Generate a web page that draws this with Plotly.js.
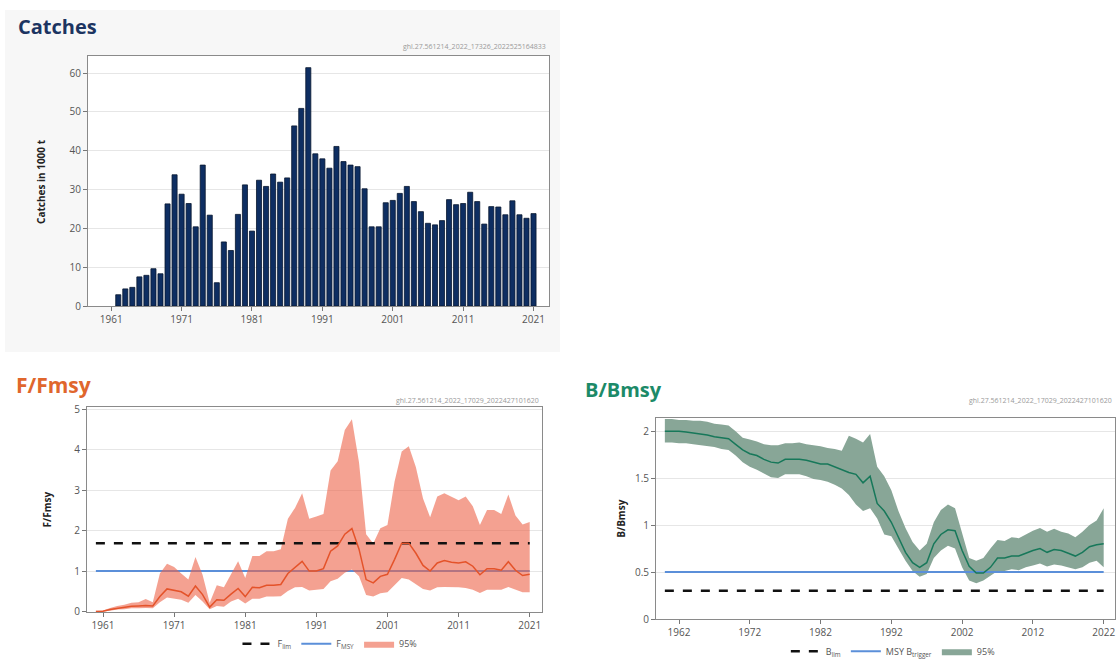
<!DOCTYPE html>
<html><head><meta charset="utf-8">
<script src="https://cdn.plot.ly/plotly-3.0.1.min.js"></script>
<style>
body{margin:0;background:#fff;width:1119px;height:670px;overflow:hidden;position:relative;}
#catch{position:absolute;left:5px;top:10px;width:555px;height:342px;}
#ff{position:absolute;left:0;top:370px;width:560px;height:300px;}
#bb{position:absolute;left:570px;top:370px;width:549px;height:300px;}
</style></head><body>
<div id="catch"></div><div id="ff"></div><div id="bb"></div>
<script>
// ---------- Catches ----------
const catchYears = [];
for (let y = 1962; y <= 2021; y++) catchYears.push(y);
const catchValues = [2.9,4.4,4.8,7.5,7.9,9.6,8.3,26.3,33.8,28.8,26.4,20.4,36.3,23.4,6.0,16.5,14.3,23.6,31.2,19.3,
  32.4,30.8,34.0,31.9,33.0,46.4,50.9,61.4,39.2,37.9,35.5,41.1,37.2,36.3,35.9,30.2,20.4,20.4,26.6,27.2,
  29.0,30.8,26.9,24.3,21.3,20.9,22.0,27.4,26.1,26.4,29.3,26.9,21.1,25.6,25.5,23.5,27.1,23.5,22.6,23.8];
const catchTickVals = [1961,1971,1981,1991,2001,2011,2021];
const catchYTicks = [0,10,20,30,40,50,60];

// ---------- F/Fmsy ----------
const fYears = [];
for (let y = 1960; y <= 2021; y++) fYears.push(y);
const fMain = [0.0,0.01,0.05,0.08,0.11,0.13,0.14,0.15,0.14,0.37,0.56,0.52,0.49,0.38,0.63,0.42,0.11,0.29,0.28,0.43,
  0.57,0.37,0.60,0.59,0.65,0.65,0.67,0.94,1.10,1.24,1.00,1.00,1.06,1.49,1.62,1.91,2.05,1.54,0.79,0.71,
  0.87,0.92,1.29,1.69,1.69,1.44,1.14,1.00,1.20,1.26,1.22,1.20,1.23,1.12,0.91,1.06,1.06,1.02,1.23,1.02,0.89,0.92];
const fUpper = [0.02,0.03,0.09,0.14,0.17,0.22,0.23,0.31,0.23,0.94,1.18,1.10,0.94,0.79,1.35,0.91,0.22,0.65,0.60,0.94,
  1.24,0.83,1.37,1.37,1.49,1.49,1.54,2.29,2.56,2.92,2.29,2.35,2.41,3.48,3.71,4.48,4.75,3.68,1.91,1.68,
  2.06,2.14,3.21,3.95,4.08,3.56,2.79,2.33,2.84,2.92,2.84,2.75,2.84,2.60,2.14,2.51,2.51,2.41,2.89,2.37,2.15,2.21];
const fLower = [0.0,0.0,0.02,0.05,0.06,0.08,0.08,0.09,0.08,0.23,0.35,0.32,0.29,0.22,0.41,0.25,0.06,0.14,0.12,0.25,
  0.32,0.20,0.32,0.32,0.37,0.37,0.38,0.51,0.60,0.61,0.52,0.54,0.56,0.75,0.81,0.96,1.04,0.87,0.41,0.37,
  0.45,0.48,0.66,0.83,0.79,0.68,0.56,0.52,0.60,0.61,0.61,0.60,0.58,0.54,0.46,0.54,0.54,0.54,0.61,0.54,0.48,0.48];
const fLim = 1.69, fMsy = 1.0;
const fRefYears = [1960, 2021];
const fTickVals = [1961,1971,1981,1991,2001,2011,2021];
const fYTicks = [0,1,2,3,4,5];

// ---------- B/Bmsy ----------
const bYears = [];
for (let y = 1960; y <= 2022; y++) bYears.push(y);
const bMain = [2.0,2.0,2.0,1.99,1.98,1.97,1.96,1.94,1.93,1.92,1.86,1.80,1.76,1.74,1.70,1.67,1.66,1.70,1.70,1.70,
  1.69,1.67,1.65,1.65,1.62,1.59,1.56,1.54,1.45,1.52,1.23,1.15,1.03,0.87,0.71,0.60,0.55,0.60,0.80,0.90,
  0.95,0.94,0.73,0.56,0.49,0.49,0.55,0.65,0.65,0.67,0.67,0.70,0.73,0.75,0.71,0.74,0.73,0.70,0.67,0.71,0.77,0.79,0.80];
const bUpper = [2.13,2.13,2.12,2.12,2.11,2.11,2.10,2.08,2.07,2.06,2.0,1.93,1.91,1.89,1.86,1.85,1.85,1.87,1.87,1.88,
  1.86,1.85,1.84,1.82,1.81,1.79,1.95,1.92,1.88,1.97,1.62,1.52,1.37,1.15,0.97,0.82,0.73,0.80,1.03,1.16,
  1.22,1.18,0.92,0.65,0.62,0.65,0.75,0.84,0.83,0.87,0.86,0.90,0.94,0.97,0.93,0.96,0.93,0.91,0.87,0.93,1.0,1.05,1.18];
const bLower = [1.88,1.88,1.87,1.87,1.86,1.85,1.84,1.83,1.81,1.80,1.74,1.67,1.62,1.59,1.55,1.51,1.50,1.54,1.54,1.54,
  1.52,1.49,1.48,1.46,1.43,1.39,1.32,1.22,1.15,1.18,1.07,0.90,0.88,0.75,0.62,0.51,0.45,0.48,0.65,0.73,
  0.78,0.75,0.55,0.41,0.38,0.41,0.46,0.51,0.51,0.53,0.52,0.55,0.57,0.59,0.56,0.58,0.57,0.55,0.53,0.55,0.60,0.62,0.55];
const bLim = 0.3, bTrigger = 0.5;
const bRefYears = [1960, 2022];
const bTickVals = [1962,1972,1982,1992,2002,2012,2022];
const bYTicks = [0,0.5,1,1.5,2];
const bYTickText = ['0','0.5','1','1.5','2'];

const watermarkC = 'ghl.27.561214_2022_17326_2022525164833';
const watermarkFB = 'ghl.27.561214_2022_17029_2022427101620';

const FONT = 'Open Sans, DejaVu Sans, sans-serif';
const tickFont = {family: FONT, size: 10, color: '#555'};
const cfg = {staticPlot: true, displayModeBar: false};

function axisBase(extra) {
  return Object.assign({
    showline: true, mirror: true, linecolor: '#8a8a8a', linewidth: 1,
    ticks: 'outside', ticklen: 4, tickcolor: '#777', tickwidth: 1,
    tickfont: tickFont, zeroline: false, showgrid: false, fixedrange: true
  }, extra);
}

// Catches plot
Plotly.newPlot('catch', [{
  type: 'bar', x: catchYears, y: catchValues, width: 0.72,
  marker: {color: '#0e2e62', line: {color: '#08162e', width: 0.8}},
  showlegend: false, hoverinfo: 'skip'
}], {
  width: 555, height: 342,
  margin: {l: 83, r: 11, t: 46, b: 46},
  paper_bgcolor: '#f7f7f7', plot_bgcolor: '#ffffff',
  title: {text: '<b>Catches</b>', x: 13/555, xref: 'container', xanchor: 'left',
          y: 1 - 17/342, yref: 'container', yanchor: 'middle',
          font: {family: FONT, size: 20, color: '#1c3461'}},
  xaxis: axisBase({range: [1957.7, 2023.2], tickvals: catchTickVals, ticktext: catchTickVals.map(String)}),
  yaxis: axisBase({range: [0, 64.4], tickvals: catchYTicks, showgrid: true, gridcolor: '#e6e6e6'}),
  annotations: [
    {text: watermarkC, xref: 'paper', yref: 'paper', x: 0.998, y: 1.036, xanchor: 'right', yanchor: 'middle',
     showarrow: false, font: {family: FONT, size: 7, color: '#9a9a9a'}},
    {text: '<b>Catches in 1000 t</b>', xref: 'paper', yref: 'paper', x: -0.102, y: 0.5, xanchor: 'center', yanchor: 'middle',
     textangle: -90, showarrow: false, font: {family: FONT, size: 10, color: '#222'}}
  ]
}, cfg);

// F/Fmsy plot
Plotly.newPlot('ff', [
  {x: fRefYears, y: [fMsy, fMsy], mode: 'lines', line: {color: '#5b8fd9', width: 2}, name: 'F<sub>MSY</sub>', legendrank: 2, hoverinfo: 'skip'},
  {x: fYears, y: fLower, mode: 'lines', line: {width: 0, color: 'rgba(0,0,0,0)'}, showlegend: false, hoverinfo: 'skip'},
  {x: fYears, y: fUpper, mode: 'lines', line: {width: 0, color: 'rgba(0,0,0,0)'}, fill: 'tonexty',
   fillcolor: 'rgba(236,98,72,0.6)', name: '95%', legendrank: 3, hoverinfo: 'skip'},
  {x: fRefYears, y: [fLim, fLim], mode: 'lines', line: {color: '#111', width: 2.5, dash: 'dash'}, name: 'F<sub>lim</sub>', legendrank: 1, hoverinfo: 'skip'},
  {x: fYears, y: fMain, mode: 'lines', line: {color: '#e4532a', width: 1.5}, showlegend: false, hoverinfo: 'skip'}
], {
  width: 560, height: 300,
  margin: {l: 87, r: 18, t: 37, b: 44},
  paper_bgcolor: '#ffffff', plot_bgcolor: '#ffffff',
  title: {text: '<b>F/Fmsy</b>', x: 16/560, xref: 'container', xanchor: 'left',
          y: 1 - 16/300, yref: 'container', yanchor: 'middle',
          font: {family: FONT, size: 21, color: '#e0662c'}},
  xaxis: axisBase({range: [1958.75, 2022.73], tickvals: fTickVals, ticktext: fTickVals.map(String)}),
  yaxis: axisBase({range: [-0.01, 5.05], tickvals: fYTicks, showgrid: true, gridcolor: '#e6e6e6'}),
  showlegend: true,
  legend: {orientation: 'h', x: 0.534, xanchor: 'center', y: -0.155, yanchor: 'middle',
           font: {family: FONT, size: 9, color: '#555'}, bgcolor: 'rgba(0,0,0,0)', traceorder: 'normal', itemwidth: 30},
  annotations: [
    {text: watermarkFB, xref: 'paper', yref: 'paper', x: 0.998, y: 1.032, xanchor: 'right', yanchor: 'middle',
     showarrow: false, font: {family: FONT, size: 7, color: '#9a9a9a'}},
    {text: '<b>F/Fmsy</b>', xref: 'paper', yref: 'paper', x: -0.088, y: 0.5, xanchor: 'center', yanchor: 'middle',
     textangle: -90, showarrow: false, font: {family: FONT, size: 10, color: '#222'}}
  ]
}, cfg);

// B/Bmsy plot
Plotly.newPlot('bb', [
  {x: bYears, y: bLower, mode: 'lines', line: {width: 0, color: 'rgba(0,0,0,0)'}, showlegend: false, hoverinfo: 'skip'},
  {x: bYears, y: bUpper, mode: 'lines', line: {width: 0, color: 'rgba(0,0,0,0)'}, fill: 'tonexty',
   fillcolor: '#88a697', name: '95%', legendrank: 3, hoverinfo: 'skip'},
  {x: bRefYears, y: [bTrigger, bTrigger], mode: 'lines', line: {color: '#5b8fd9', width: 2}, name: 'MSY B<sub>trigger</sub>', legendrank: 2, hoverinfo: 'skip'},
  {x: bRefYears, y: [bLim, bLim], mode: 'lines', line: {color: '#111', width: 2.5, dash: 'dash'}, name: 'B<sub>lim</sub>', legendrank: 1, hoverinfo: 'skip'},
  {x: bYears, y: bMain, mode: 'lines', line: {color: '#17785a', width: 1.5}, showlegend: false, hoverinfo: 'skip'}
], {
  width: 549, height: 300,
  margin: {l: 86, r: 4, t: 48, b: 39},
  paper_bgcolor: '#ffffff', plot_bgcolor: '#ffffff',
  title: {text: '<b>B/Bmsy</b>', x: 15/549, xref: 'container', xanchor: 'left',
          y: 1 - 20/300, yref: 'container', yanchor: 'middle',
          font: {family: FONT, size: 20, color: '#1c8a68'}},
  xaxis: axisBase({range: [1958.75, 2023.6], tickvals: bTickVals, ticktext: bTickVals.map(String)}),
  yaxis: axisBase({range: [0, 2.14], tickvals: bYTicks, ticktext: bYTickText, showgrid: true, gridcolor: '#e6e6e6'}),
  showlegend: true,
  legend: {orientation: 'h', x: 0.516, xanchor: 'center', y: -0.16, yanchor: 'middle',
           font: {family: FONT, size: 9, color: '#555'}, bgcolor: 'rgba(0,0,0,0)', traceorder: 'normal', itemwidth: 30},
  annotations: [
    {text: watermarkFB, xref: 'paper', yref: 'paper', x: 0.998, y: 1.085, xanchor: 'right', yanchor: 'middle',
     showarrow: false, font: {family: FONT, size: 7, color: '#9a9a9a'}},
    {text: '<b>B/Bmsy</b>', xref: 'paper', yref: 'paper', x: -0.078, y: 0.5, xanchor: 'center', yanchor: 'middle',
     textangle: -90, showarrow: false, font: {family: FONT, size: 10, color: '#222'}}
  ]
}, cfg);
</script>
</body></html>
